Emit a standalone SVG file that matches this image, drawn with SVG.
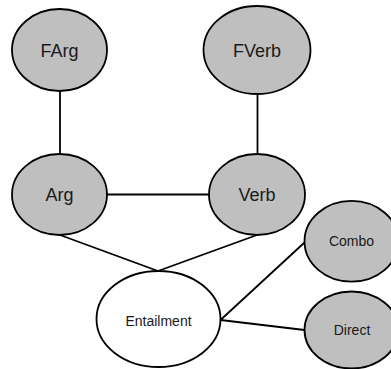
<svg xmlns="http://www.w3.org/2000/svg" width="391" height="369" viewBox="0 0 391 369">
<style>
.n{fill:#bfbfbf;stroke:#000;stroke-width:1.8}
.w{fill:#fff;stroke:#000;stroke-width:1.8}
.e{stroke:#000;stroke-width:1.8;fill:none}
.t{font-family:"Liberation Sans",Arial,sans-serif;fill:#1a1a1a;text-anchor:middle}
.b{font-size:18px}
.s{font-size:14px}
</style>
<rect width="391" height="369" fill="#fff"/>
<g id="connectors">
<line class="e" x1="60" y1="91" x2="60" y2="154"/>
<line class="e" x1="257.5" y1="94" x2="257.5" y2="154"/>
<line class="e" x1="107" y1="194.5" x2="209" y2="194.5"/>
<line class="e" x1="60" y1="235" x2="158" y2="271"/>
<line class="e" x1="257" y1="235" x2="158" y2="271"/>
<line class="e" x1="304.5" y1="242.5" x2="220.5" y2="320"/>
<line class="e" x1="304.5" y1="330" x2="220.5" y2="320"/>
</g>
<g id="FArg"><ellipse class="n" cx="59.5" cy="50" rx="47.5" ry="41"/><text class="t b" x="59.5" y="57">FArg</text></g>
<g id="FVerb"><ellipse class="n" cx="257" cy="50" rx="53.5" ry="44"/><text class="t b" x="257" y="57">FVerb</text></g>
<g id="Arg"><ellipse class="n" cx="59.5" cy="194.5" rx="47.5" ry="40.5"/><text class="t b" x="59.5" y="201">Arg</text></g>
<g id="Verb"><ellipse class="n" cx="257" cy="194.5" rx="48" ry="40.5"/><text class="t b" x="257" y="201">Verb</text></g>
<g id="Combo"><ellipse class="n" cx="351.5" cy="241.3" rx="47" ry="40.4"/><text class="t s" x="351.5" y="246">Combo</text></g>
<g id="Direct"><ellipse class="n" cx="351.5" cy="330" rx="47" ry="38.5"/><text class="t s" x="352" y="335">Direct</text></g>
<g id="Entailment"><ellipse class="w" cx="158.5" cy="319" rx="62" ry="48"/><text class="t s" x="158.5" y="326">Entailment</text></g>
</svg>
